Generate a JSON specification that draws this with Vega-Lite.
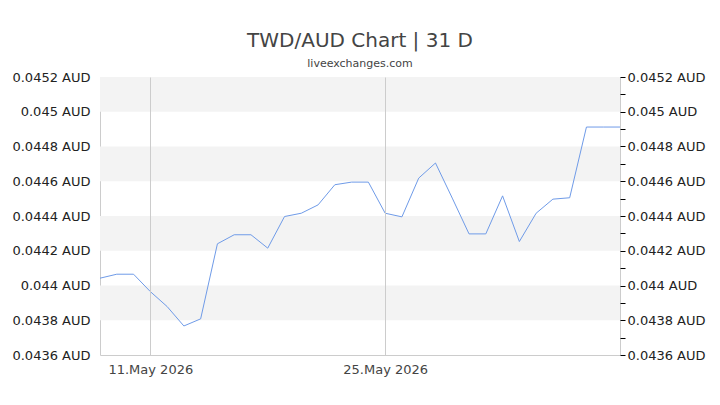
{
  "$schema": "https://vega.github.io/schema/vega-lite/v6.json",
  "width": 520,
  "height": 278,
  "autosize": {"type": "none"},
  "padding": {"left": 100, "top": 77, "right": 100, "bottom": 50},
  "background": "#ffffff",
  "config": {
    "font": "DejaVu Sans",
    "view": {"stroke": "#cccccc", "strokeWidth": 1}
  },
  "title": {
    "text": "TWD/AUD Chart | 31 D",
    "subtitle": "liveexchanges.com",
    "fontSize": 20,
    "fontWeight": "normal",
    "color": "#444444",
    "subtitleFontSize": 11,
    "subtitleColor": "#444444",
    "subtitlePadding": 7,
    "anchor": "middle",
    "offset": 2,
    "font": "DejaVu Sans",
    "subtitleFont": "DejaVu Sans"
  },
  "datasets": {
    "rates": [
      {"date": "2026-05-08", "rate": 0.044042},
      {"date": "2026-05-09", "rate": 0.044065},
      {"date": "2026-05-10", "rate": 0.044065},
      {"date": "2026-05-11", "rate": 0.043965},
      {"date": "2026-05-12", "rate": 0.043879},
      {"date": "2026-05-13", "rate": 0.043767},
      {"date": "2026-05-14", "rate": 0.043808},
      {"date": "2026-05-15", "rate": 0.044240},
      {"date": "2026-05-16", "rate": 0.044292},
      {"date": "2026-05-17", "rate": 0.044292},
      {"date": "2026-05-18", "rate": 0.044215},
      {"date": "2026-05-19", "rate": 0.044397},
      {"date": "2026-05-20", "rate": 0.044416},
      {"date": "2026-05-21", "rate": 0.044464},
      {"date": "2026-05-22", "rate": 0.044580},
      {"date": "2026-05-23", "rate": 0.044595},
      {"date": "2026-05-24", "rate": 0.044595},
      {"date": "2026-05-25", "rate": 0.044416},
      {"date": "2026-05-26", "rate": 0.044395},
      {"date": "2026-05-27", "rate": 0.044618},
      {"date": "2026-05-28", "rate": 0.044705},
      {"date": "2026-05-29", "rate": 0.044503},
      {"date": "2026-05-30", "rate": 0.044297},
      {"date": "2026-05-31", "rate": 0.044297},
      {"date": "2026-06-01", "rate": 0.044516},
      {"date": "2026-06-02", "rate": 0.044253},
      {"date": "2026-06-03", "rate": 0.044416},
      {"date": "2026-06-04", "rate": 0.044497},
      {"date": "2026-06-05", "rate": 0.044505},
      {"date": "2026-06-06", "rate": 0.044912},
      {"date": "2026-06-07", "rate": 0.044912},
      {"date": "2026-06-08", "rate": 0.044912}
    ],
    "bands": [
      {"lo": 0.0450, "hi": 0.0452},
      {"lo": 0.0446, "hi": 0.0448},
      {"lo": 0.0442, "hi": 0.0444},
      {"lo": 0.0438, "hi": 0.0440}
    ]
  },
  "layer": [
    {
      "data": {"name": "bands"},
      "mark": {"type": "rect", "color": "#f3f3f3"},
      "encoding": {
        "y": {"field": "lo", "type": "quantitative", "axis": null,
              "scale": {"domain": [0.0436, 0.0452], "nice": false, "zero": false}},
        "y2": {"field": "hi"}
      }
    },
    {
      "data": {"name": "rates"},
      "mark": {"type": "line", "color": "#6f9be8", "strokeWidth": 1},
      "encoding": {
        "x": {
          "field": "date", "type": "temporal",
          "scale": {"type": "utc", "domain": [{"year": 2026, "month": 5, "date": 8, "utc": true}, {"year": 2026, "month": 6, "date": 8, "utc": true}]},
          "axis": {
            "title": null,
            "values": [{"year": 2026, "month": 5, "date": 11, "utc": true}, {"year": 2026, "month": 5, "date": 25, "utc": true}],
            "labelExpr": "utcFormat(datum.value, '%d.%b %Y')",
            "grid": true, "gridColor": "#cccccc", "gridWidth": 1,
            "ticks": false, "domain": false, "zindex": 1,
            "labelPadding": 8, "labelFontSize": 13, "labelColor": "#444444",
            "labelFont": "DejaVu Sans", "labelFlush": false
          }
        },
        "y": {
          "field": "rate", "type": "quantitative",
          "scale": {"domain": [0.0436, 0.0452], "nice": false, "zero": false},
          "axis": {
            "title": null, "orient": "left",
            "values": [0.0436, 0.0438, 0.044, 0.0442, 0.0444, 0.0446, 0.0448, 0.045, 0.0452],
            "labelExpr": "format(datum.value, '.4~f') + ' AUD'",
            "ticks": false, "domain": false, "grid": false,
            "labelPadding": 10, "labelFontSize": 13, "labelColor": "#222222",
            "labelFont": "DejaVu Sans", "labelFlush": false, "labelOverlap": false
          }
        }
      }
    },
    {
      "data": {"name": "rates"},
      "mark": {"type": "rule", "opacity": 0},
      "encoding": {
        "y": {
          "field": "rate", "type": "quantitative",
          "axis": {
            "title": null, "orient": "right",
            "values": [0.0436, 0.0437, 0.0438, 0.0439, 0.044, 0.0441, 0.0442, 0.0443, 0.0444, 0.0445, 0.0446, 0.0447, 0.0448, 0.0449, 0.045, 0.0451, 0.0452],
            "labelExpr": "round(datum.value * 10000) % 2 == 0 ? format(datum.value, '.4~f') + ' AUD' : ''",
            "ticks": true, "tickSize": 5, "tickColor": "#000000", "tickWidth": 1,
            "domain": false, "grid": false,
            "labelPadding": 2, "labelFontSize": 13, "labelColor": "#222222",
            "labelFont": "DejaVu Sans", "labelFlush": false, "labelOverlap": false
          }
        }
      }
    }
  ],
  "resolve": {"axis": {"y": "independent"}}
}
